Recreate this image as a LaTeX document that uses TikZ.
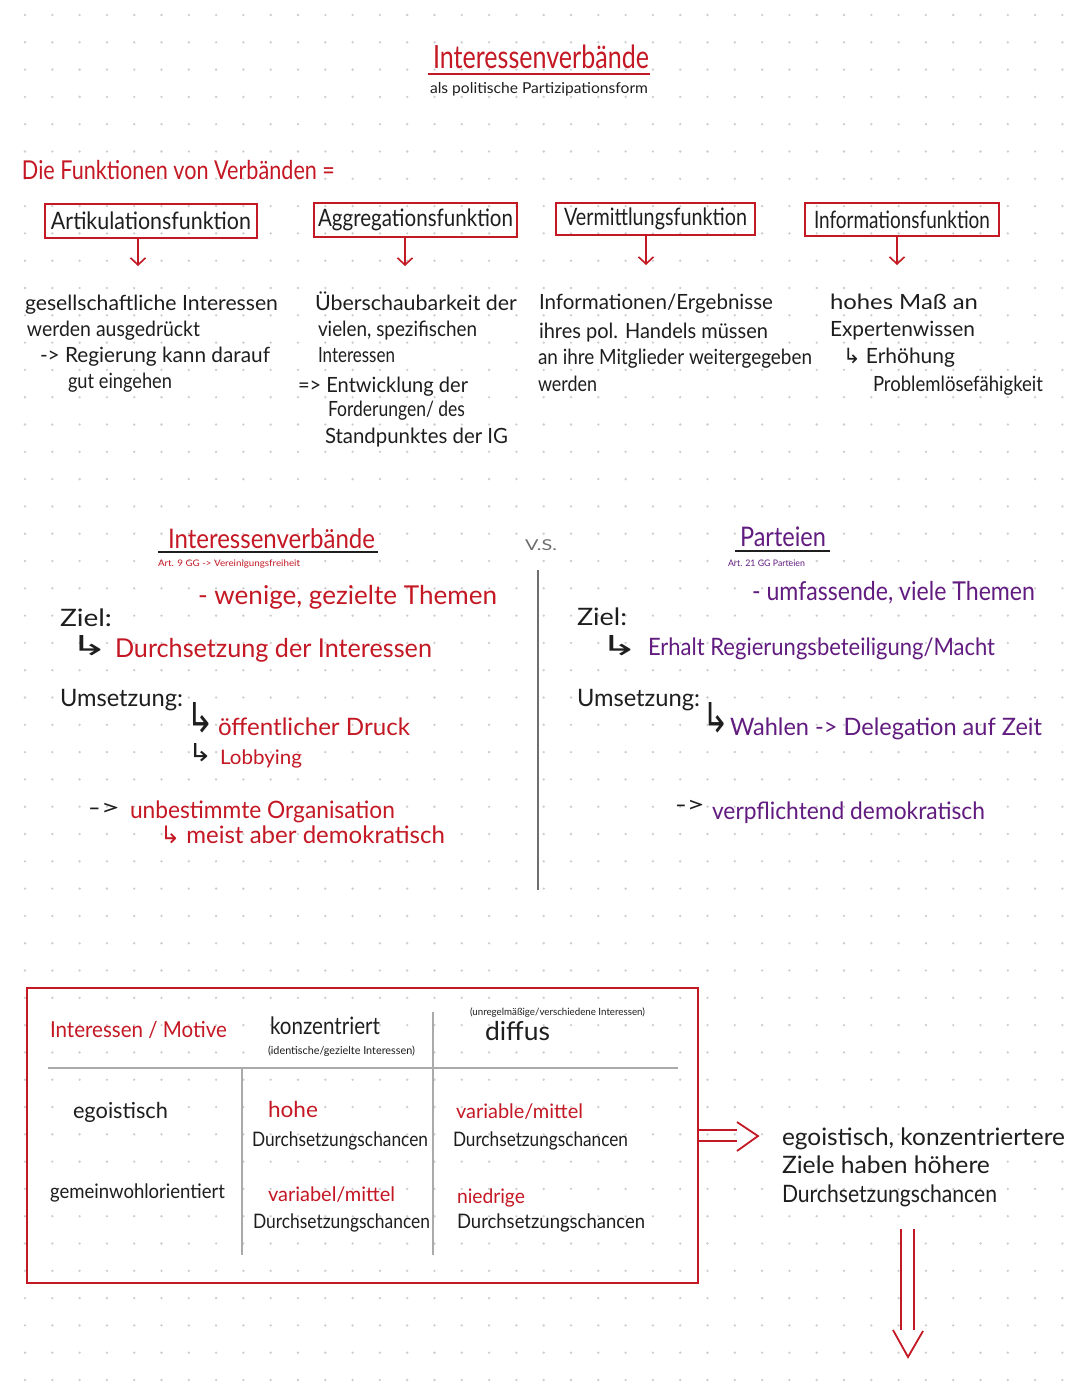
\documentclass[tikz,border=0pt]{standalone}
\usepackage{fontspec}
\usepackage{graphicx}
\setmainfont{Lato}
\newfontfamily\symf{DejaVu Sans}
\usetikzlibrary{arrows.meta}
\definecolor{rd}{RGB}{196,24,36}
\definecolor{pu}{RGB}{98,28,128}
\definecolor{ink}{RGB}{30,30,30}
\definecolor{dotc}{RGB}{205,205,205}
\definecolor{gr}{RGB}{110,110,110}
\definecolor{lgr}{RGB}{170,170,170}
\newlength{\fxw}
% #1 font size, #2 target width, #3 text
\newcommand{\fx}[3]{\settowidth{\fxw}{\fontsize{#1}{#1}\selectfont #3}\pgfmathsetmacro{\fxs}{#2/\fxw}\scalebox{\fxs}[1]{\fontsize{#1}{#1}\selectfont #3}}
\newcommand{\hk}{{\symf ↳}}
\newcommand{\hkb}[2]{\resizebox{#1pt}{#2pt}{\symf ↳}}
\begin{document}
\begin{tikzpicture}[x=1pt,y=-1pt,
  tx/.style={anchor=base west,inner sep=0pt,outer sep=0pt,text=ink},
  txr/.style={tx,text=rd},
  txp/.style={tx,text=pu},
  txg/.style={tx,text=gr},
  hook/.style={anchor=south west,inner sep=0pt,outer sep=0pt,text=ink},
  fnbox/.style={draw=rd,line width=1.6pt,inner sep=0pt,text=ink},
  farrow/.style={draw=rd,line width=1.6pt,-{Straight Barb[length=7pt,width=15pt]}},
  redline/.style={draw=rd,line width=1.8pt},
  ulline/.style={draw=ink,line width=2.4pt},
  gridline/.style={draw=lgr,line width=1.3pt},
]
\useasboundingbox[fill=white] (0,0) rectangle (1080,1394);
% dot grid
\foreach \i in {0,...,38}{\foreach \j in {0,...,50}{\fill[dotc] (25+27.3*\i,15+27.3*\j) circle (1.3pt);}}

% title
\node[txr] (title) at (433,69) {\fx{32}{216}{Interessenverbände}};
\draw[redline] (428,74) -- (650,74);
\node[tx] (subtitle) at (430,94) {\fx{15}{218}{als politische Partizipationsform}};
\node[txr] (fkt) at (22,179) {\fx{26}{313}{Die Funktionen von Verbänden =}};

% function boxes
\node[fnbox,minimum width=212pt,minimum height=34pt] (b1) at (151,221) {\fx{24}{200}{Artikulationsfunktion}};
\node[fnbox,minimum width=203pt,minimum height=34pt] (b2) at (415.5,220) {\fx{24}{195}{Aggregationsfunktion}};
\node[fnbox,minimum width=199pt,minimum height=32pt] (b3) at (655.5,219) {\fx{24}{183}{Vermittlungsfunktion}};
\node[fnbox,minimum width=194pt,minimum height=33pt] (b4) at (902,219.5) {\fx{24}{176}{Informationsfunktion}};
\coordinate (a1) at (138,266);
\coordinate (a2) at (405,266);
\coordinate (a3) at (646,265);
\coordinate (a4) at (897,265);
\draw[farrow] (b1.south -| a1) -- (a1);
\draw[farrow] (b2.south -| a2) -- (a2);
\draw[farrow] (b3.south -| a3) -- (a3);
\draw[farrow] (b4.south -| a4) -- (a4);

% block 1
\node[tx] (t11) at (25,310) {\fx{21}{253}{gesellschaftliche Interessen}};
\node[tx] (t12) at (27,336) {\fx{21}{173}{werden ausgedrückt}};
\node[tx] (t13) at (40,362) {\fx{21}{230}{-> Regierung kann darauf}};
\node[tx] (t14) at (68,388) {\fx{21}{104}{gut eingehen}};
% block 2
\node[tx] (t21) at (315,310) {\fx{21}{202}{Überschaubarkeit der}};
\node[tx] (t22) at (318,336) {\fx{21}{159}{vielen, spezifischen}};
\node[tx] (t23) at (318,362) {\fx{21}{77}{Interessen}};
\node[tx] (t24) at (298,392) {\fx{21}{170}{=> Entwicklung der}};
\node[tx] (t25) at (328,416) {\fx{21}{137}{Forderungen/ des}};
\node[tx] (t26) at (325,443) {\fx{21}{183}{Standpunktes der IG}};
% block 3
\node[tx] (t31) at (539,309) {\fx{21}{234}{Informationen/Ergebnisse}};
\node[tx] (t32) at (539,338) {\fx{21}{229}{ihres pol. Handels müssen}};
\node[tx] (t33) at (538,364) {\fx{21}{274}{an ihre Mitglieder weitergegeben}};
\node[tx] (t34) at (538,391) {\fx{21}{59}{werden}};
% block 4
\node[tx] (t41) at (830,309) {\fx{21}{148}{hohes Maß an}};
\node[tx] (t42) at (830,336) {\fx{21}{145}{Expertenwissen}};
\node[tx] (t43) at (843,363) {\fx{21}{112}{\hk\ Erhöhung}};
\node[tx] (t44) at (873,391) {\fx{21}{170}{Problemlösefähigkeit}};

% middle headings
\node[txr] (ivb) at (168,548) {\fx{27}{207}{Interessenverbände}};
\draw[ulline] (158,552) -- (378,552);
\node[txr] (art9) at (158,566) {\fx{9}{142}{Art. 9 GG -> Vereinigungsfreiheit}};
\node[txg] (vs) at (525,550) {\fx{15}{32}{V.S.}};
\node[txp] (part) at (740,546) {\fx{27}{86}{Parteien}};
\draw[ulline] (735,551) -- (830,551);
\node[txp] (art21) at (728,566) {\fx{9}{77}{Art. 21 GG Parteien}};
\draw[draw=gr,line width=1.8pt] (538,570) -- (538,890);

% left column
\node[txr] (lthem) at (198,604) {\fx{26}{299}{- wenige, gezielte Themen}};
\node[tx] (lziel) at (60,626) {\fx{24}{52}{Ziel:}};
\node[hook] (lh1) at (70,656) {\hkb{38}{20}};
\node[txr] (ldurch) at (115,657) {\fx{26}{317}{Durchsetzung der Interessen}};
\node[tx] (lums) at (60,706) {\fx{24}{123}{Umsetzung:}};
\node[hook] (lh2) at (186,733) {\hkb{28}{30}};
\node[txr] (ldruck) at (218,735) {\fx{24}{192}{öffentlicher Druck}};
\node[hook] (lh3) at (188,762) {\hkb{24}{18}};
\node[txr] (llob) at (220,764) {\fx{20}{82}{Lobbying}};
\node[tx] (lar) at (88,815) {\fx{22}{32}{->}};
\node[txr] (lorg) at (130,818) {\fx{24}{265}{unbestimmte Organisation}};
\node[txr] (ldem) at (160,843) {\fx{24}{285}{\hk\ meist aber demokratisch}};

% right column
\node[txp] (rthem) at (752,600) {\fx{26}{283}{- umfassende, viele Themen}};
\node[tx] (rziel) at (577,625) {\fx{24}{50}{Ziel:}};
\node[hook] (rh1) at (600,656) {\hkb{38}{20}};
\node[txp] (rerh) at (648,655) {\fx{24}{347}{Erhalt Regierungsbeteiligung/Macht}};
\node[tx] (rums) at (577,706) {\fx{24}{123}{Umsetzung:}};
\node[hook] (rh2) at (702,733) {\hkb{27}{30}};
\node[txp] (rwahl) at (730,735) {\fx{24}{312}{Wahlen -> Delegation auf Zeit}};
\node[tx] (rar) at (675,812) {\fx{22}{30}{->}};
\node[txp] (rdem) at (712,819) {\fx{24}{273}{verpflichtend demokratisch}};

% table
\node[draw=rd,line width=2pt,minimum width=671pt,minimum height=295pt,inner sep=0pt] (tab) at (362.5,1135.5) {};
\node[txr] (hmot) at (50,1037) {\fx{22}{177}{Interessen / Motive}};
\node[tx] (hkon) at (270,1034) {\fx{24}{110}{konzentriert}};
\node[tx] (hkons) at (268,1054) {\fx{11}{147}{(identische/gezielte Interessen)}};
\node[tx] (hdifs) at (470,1015) {\fx{10}{175}{(unregelmäßige/verschiedene Interessen)}};
\node[tx] (hdif) at (485,1040) {\fx{26}{65}{diffus}};
\draw[gridline] (48,1068) -- (678,1068);
\draw[gridline] (242,1068) -- (242,1255);
\draw[gridline] (433,1012) -- (433,1255);
\node[tx] (ego) at (73,1118) {\fx{22}{95}{egoistisch}};
\node[txr] (c11a) at (268,1117) {\fx{22}{50}{hohe}};
\node[tx] (c11b) at (252,1146) {\fx{20}{176}{Durchsetzungschancen}};
\node[txr] (c12a) at (456,1118) {\fx{20}{127}{variable/mittel}};
\node[tx] (c12b) at (453,1146) {\fx{20}{175}{Durchsetzungschancen}};
\node[tx] (gem) at (50,1198) {\fx{20}{175}{gemeinwohlorientiert}};
\node[txr] (c21a) at (268,1201) {\fx{20}{127}{variabel/mittel}};
\node[tx] (c21b) at (253,1228) {\fx{20}{177}{Durchsetzungschancen}};
\node[txr] (c22a) at (457,1203) {\fx{20}{68}{niedrige}};
\node[tx] (c22b) at (457,1228) {\fx{20}{188}{Durchsetzungschancen}};

% conclusion
\node[tx] (k1) at (782,1145) {\fx{24}{283}{egoistisch, konzentriertere}};
\node[tx] (k2) at (782,1173) {\fx{24}{208}{Ziele haben höhere}};
\node[tx] (k3) at (782,1202) {\fx{24}{215}{Durchsetzungschancen}};

% double arrow right
\coordinate (dr1) at (737,1130);
\coordinate (dr2) at (737,1141);
\coordinate (drt) at (758,1136);
\draw[redline] (tab.east |- dr1) -- (dr1);
\draw[redline] (tab.east |- dr2) -- (dr2);
\draw[redline,line join=miter] (737,1122) -- (drt) -- (737,1151);
% double arrow down
\coordinate (dd1) at (901,1330);
\coordinate (dd2) at (914,1330);
\coordinate (ddt) at (908,1357);
\draw[redline] (901,1229) -- (dd1);
\draw[redline] (914,1229) -- (dd2);
\draw[redline] (893,1330) -- (ddt) -- (923,1331);
\end{tikzpicture}
\end{document}
